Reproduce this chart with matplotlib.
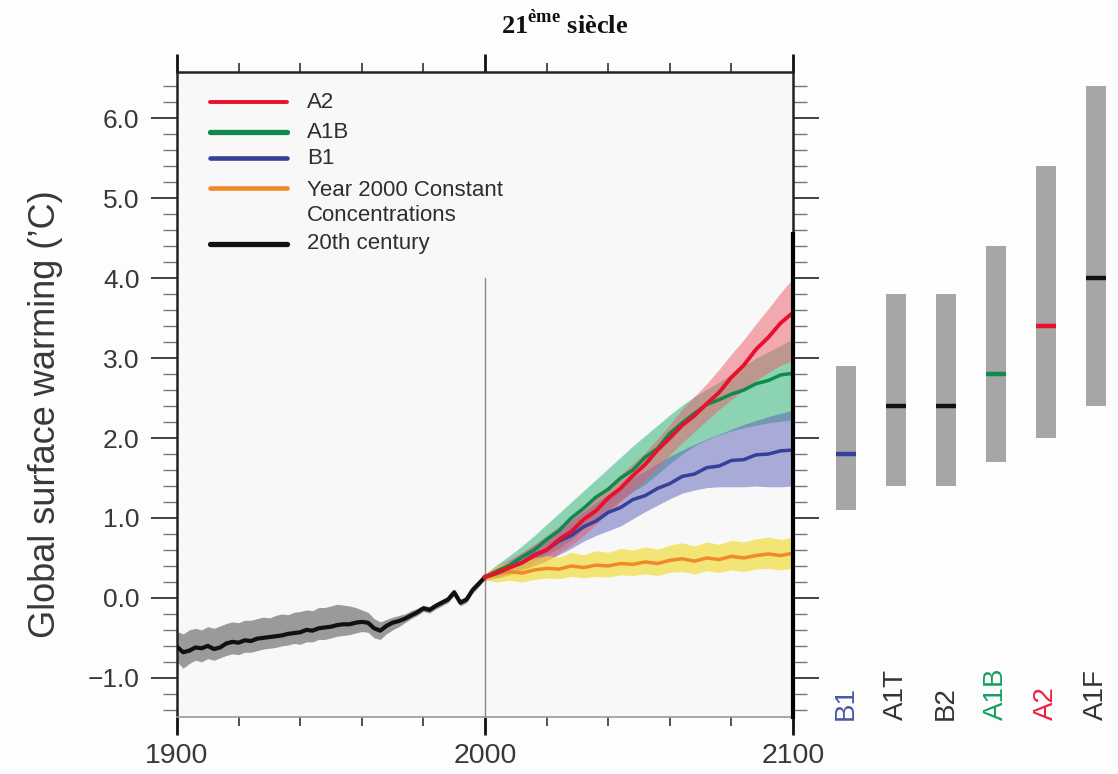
import matplotlib
matplotlib.use('Agg')
import matplotlib.pyplot as plt
import numpy as np
from matplotlib.ticker import MultipleLocator, FixedLocator

plt.rcParams['font.family'] = ['Liberation Sans', 'DejaVu Sans']
plt.rcParams['mathtext.fontset'] = 'custom'
plt.rcParams['mathtext.bf'] = 'Liberation Serif:bold'
plt.rcParams['mathtext.rm'] = 'Liberation Serif'

# ---------------- data ----------------
years_20c = list(range(1900, 2001, 2))
c20_mean = [-0.61, -0.68, -0.66, -0.62, -0.63, -0.60, -0.64, -0.62, -0.57, -0.55,
            -0.56, -0.53, -0.54, -0.51, -0.50, -0.49, -0.48, -0.47, -0.45, -0.44,
            -0.43, -0.40, -0.41, -0.38, -0.37, -0.36, -0.34, -0.33, -0.33, -0.31,
            -0.30, -0.31, -0.38, -0.41, -0.35, -0.31, -0.29, -0.26, -0.22, -0.18,
            -0.13, -0.15, -0.10, -0.06, -0.02, 0.07, -0.06, -0.02, 0.10, 0.18, 0.26]
c20_hi = [-0.42, -0.45, -0.40, -0.38, -0.40, -0.36, -0.38, -0.35, -0.32, -0.30,
          -0.31, -0.28, -0.28, -0.26, -0.24, -0.25, -0.22, -0.20, -0.21, -0.18,
          -0.17, -0.15, -0.16, -0.12, -0.12, -0.10, -0.08, -0.09, -0.10, -0.12,
          -0.15, -0.18, -0.26, -0.30, -0.27, -0.24, -0.22, -0.20, -0.16, -0.13,
          -0.09, -0.11, -0.06, -0.02, 0.02, 0.11, -0.02, 0.02, 0.13, 0.21, 0.29]
c20_lo = [-0.80, -0.88, -0.82, -0.78, -0.80, -0.76, -0.78, -0.75, -0.72, -0.70,
          -0.71, -0.68, -0.68, -0.66, -0.64, -0.63, -0.62, -0.60, -0.59, -0.57,
          -0.58, -0.55, -0.55, -0.52, -0.52, -0.50, -0.48, -0.47, -0.46, -0.44,
          -0.42, -0.43, -0.50, -0.52, -0.45, -0.40, -0.36, -0.31, -0.26, -0.22,
          -0.17, -0.19, -0.14, -0.10, -0.06, 0.03, -0.10, -0.06, 0.06, 0.14, 0.23]

years_21c = list(range(2000, 2101, 4))
a2_mean = [0.26, 0.32, 0.38, 0.44, 0.53, 0.60, 0.73, 0.83, 0.98, 1.09, 1.25, 1.37, 1.53,
           1.67, 1.85, 2.00, 2.16, 2.28, 2.43, 2.57, 2.76, 2.91, 3.11, 3.26, 3.44, 3.57]
a2_hi = [0.30, 0.40, 0.48, 0.57, 0.67, 0.78, 0.90, 1.00, 1.11, 1.25, 1.40, 1.54, 1.68,
         1.82, 1.99, 2.17, 2.36, 2.52, 2.68, 2.86, 3.05, 3.23, 3.43, 3.62, 3.82, 4.00]
a2_lo = [0.22, 0.25, 0.29, 0.34, 0.40, 0.46, 0.56, 0.66, 0.78, 0.92, 1.06, 1.20, 1.34,
         1.48, 1.63, 1.79, 1.94, 2.08, 2.22, 2.36, 2.48, 2.60, 2.72, 2.82, 2.91, 2.97]
a1b_mean = [0.26, 0.34, 0.41, 0.51, 0.60, 0.73, 0.84, 1.00, 1.12, 1.26, 1.36, 1.50, 1.60,
            1.76, 1.87, 2.06, 2.19, 2.31, 2.42, 2.48, 2.55, 2.60, 2.68, 2.72, 2.79, 2.81]
a1b_hi = [0.30, 0.42, 0.53, 0.65, 0.78, 0.92, 1.06, 1.20, 1.34, 1.48, 1.62, 1.76, 1.90,
          2.03, 2.16, 2.29, 2.41, 2.52, 2.61, 2.70, 2.80, 2.90, 3.00, 3.08, 3.16, 3.24]
a1b_lo = [0.22, 0.26, 0.32, 0.38, 0.46, 0.54, 0.62, 0.73, 0.86, 0.98, 1.10, 1.22, 1.33,
          1.42, 1.55, 1.68, 1.80, 1.90, 1.98, 2.04, 2.09, 2.13, 2.16, 2.19, 2.21, 2.23]
b1_mean = [0.26, 0.31, 0.38, 0.44, 0.54, 0.60, 0.71, 0.78, 0.89, 0.96, 1.07, 1.13, 1.23,
           1.28, 1.37, 1.43, 1.52, 1.55, 1.63, 1.65, 1.72, 1.73, 1.79, 1.80, 1.84, 1.85]
b1_hi = [0.29, 0.38, 0.46, 0.56, 0.66, 0.76, 0.86, 0.97, 1.08, 1.19, 1.30, 1.40, 1.50,
         1.59, 1.68, 1.77, 1.85, 1.92, 1.99, 2.05, 2.11, 2.17, 2.22, 2.27, 2.31, 2.35]
b1_lo = [0.23, 0.25, 0.29, 0.35, 0.41, 0.47, 0.54, 0.62, 0.71, 0.78, 0.84, 0.90, 0.99,
         1.08, 1.16, 1.24, 1.31, 1.35, 1.38, 1.39, 1.39, 1.39, 1.40, 1.39, 1.39, 1.40]
cc_mean = [0.26, 0.30, 0.33, 0.31, 0.35, 0.37, 0.36, 0.40, 0.38, 0.41, 0.40, 0.43, 0.42,
           0.45, 0.43, 0.47, 0.49, 0.46, 0.50, 0.48, 0.52, 0.50, 0.53, 0.55, 0.53, 0.56]
cc_hi = [0.30, 0.40, 0.45, 0.44, 0.50, 0.53, 0.51, 0.57, 0.54, 0.59, 0.57, 0.62, 0.60,
         0.64, 0.61, 0.66, 0.69, 0.65, 0.70, 0.67, 0.72, 0.70, 0.74, 0.76, 0.73, 0.76]
cc_lo = [0.22, 0.20, 0.22, 0.20, 0.23, 0.25, 0.24, 0.27, 0.25, 0.27, 0.26, 0.29, 0.28,
         0.30, 0.28, 0.32, 0.33, 0.30, 0.34, 0.32, 0.35, 0.33, 0.36, 0.37, 0.35, 0.37]

# likely ranges (bars at right)
scenarios = ['B1', 'A1T', 'B2', 'A1B', 'A2', 'A1F']
best_est = [1.8, 2.4, 2.4, 2.8, 3.4, 4.0]
range_lo = [1.1, 1.4, 1.4, 1.7, 2.0, 2.4]
range_hi = [2.9, 3.8, 3.8, 4.4, 5.4, 6.4]

legend_labels = ['A2', 'A1B', 'B1', 'Year 2000 Constant\nConcentrations', '20th century']

# ---------------- styles ----------------
C_A2, C_A1B, C_B1, C_CC, C_20 = '#e8112d', '#108a4c', '#34409a', '#f08a28', '#111111'
scen_colors = [C_B1, '#111111', '#111111', C_A1B, C_A2, '#111111']
label_colors = ['#4a58a8', '#333333', '#333333', '#14a060', '#ee2040', '#333333']
TXT = '#383838'

fig = plt.figure(figsize=(11.18, 7.74), dpi=100, facecolor='#fdfdfd')
W, H = 1118, 774
ax = fig.add_axes([177 / W, 57 / H, 616 / W, 645 / H])
ax.set_facecolor('#f8f8f8')
ax.set_xlim(1900, 2100)
ax.set_ylim(-1.49, 6.58)

# 20th century
ax.fill_between(years_20c, c20_lo, c20_hi, color='#9a9a9a', lw=0, zorder=2)
# future bands
ax.fill_between(years_21c, a1b_lo, a1b_hi, color='#22b070', alpha=0.5, lw=0, zorder=2)
ax.fill_between(years_21c, b1_lo, b1_hi, color='#5a5fb8', alpha=0.5, lw=0, zorder=2)
ax.fill_between(years_21c, a2_lo, a2_hi, color='#ee5a68', alpha=0.5, lw=0, zorder=2)
ax.fill_between(years_21c, cc_lo, cc_hi, color='#f0dc30', alpha=0.65, lw=0, zorder=2)

ax.plot(years_20c, c20_mean, color=C_20, lw=3, zorder=4)
ax.plot(years_21c, cc_mean, color=C_CC, lw=2.5, zorder=4)
ax.plot(years_21c, b1_mean, color=C_B1, lw=2.5, zorder=4)
ax.plot(years_21c, a1b_mean, color=C_A1B, lw=2.5, zorder=4)
ax.plot(years_21c, a2_mean, color=C_A2, lw=2.8, zorder=5)

ax.axvline(2000, ymin=0, ymax=(4.0 + 1.49) / (6.58 + 1.49), color='#8a8a8a', lw=1, zorder=3)

# spines
for s in ['left', 'top', 'right']:
    ax.spines[s].set_linewidth(1.8)
    ax.spines[s].set_color('#222222')
ax.spines['bottom'].set_linewidth(1.2)
ax.spines['bottom'].set_color('#9a9a9a')
ax.axvline(2100, ymin=0, ymax=(4.55 + 1.49) / (6.58 + 1.49), color='black', lw=3, zorder=6,
           clip_on=False)

# ticks
ax.xaxis.set_major_locator(FixedLocator([1900, 2000, 2100]))
ax.xaxis.set_minor_locator(MultipleLocator(20))
ax.yaxis.set_major_locator(FixedLocator([-1, 0, 1, 2, 3, 4, 5, 6]))
ax.yaxis.set_minor_locator(MultipleLocator(0.2))
ax.set_yticklabels(['\u22121.0', '0.0', '1.0', '2.0', '3.0', '4.0', '5.0', '6.0'])
ax.tick_params(axis='x', which='major', direction='out', length=13, width=2, color='#111111',
               top=True, bottom=True, labelsize=20.5, labelcolor=TXT, pad=6)
ax.tick_params(axis='x', which='minor', direction='out', length=6.5, width=1.2, color='#333333',
               top=True, bottom=True)
ax.tick_params(axis='y', which='major', direction='out', length=19, width=1.3, color='#333333',
               left=True, right=True, labelsize=19, labelcolor=TXT, pad=8)
ax.tick_params(axis='y', which='minor', direction='out', length=10, width=1, color='#777777',
               left=True, right=True)

fig.text(46 / W, 1 - 414 / H, 'Global surface warming (\u2019C)', rotation=90, ha='center',
         va='center', fontsize=26, color=TXT)

# manual legend
leg_y = [102, 132, 158, 188, 244]
leg_cols = [C_A2, C_A1B, C_B1, C_CC, C_20]
leg_lw = [2.8, 3.8, 3.3, 3.3, 3.8]
leg_text_y = [102, 132, 158, 203, 244]
for lab, col, ly, ty, lw in zip(legend_labels, leg_cols, leg_y, leg_text_y, leg_lw):
    yy = 1 - ly / H
    fig.add_artist(plt.Line2D([210 / W, 287 / W], [yy, yy], color=col, lw=lw,
                              solid_capstyle='round', transform=fig.transFigure))
    fig.text(307 / W, 1 - ty / H, lab, ha='left', va='center', fontsize=16,
             color='#2e2e2e', linespacing=1.3)

# bars at right
axb = fig.add_axes([796 / W, 57 / H, 322 / W, 645 / H])
axb.set_xlim(-1, 5.44)
axb.set_ylim(-1.49, 6.58)
axb.axis('off')
idx = np.arange(len(scenarios))
axb.bar(idx, np.array(range_hi) - np.array(range_lo), bottom=range_lo, width=0.4,
        color='#a6a6a6', lw=0)
axb.hlines(best_est, idx - 0.2, idx + 0.2, colors=scen_colors, lw=3.2)
for i, (name, col) in enumerate(zip(scenarios, label_colors)):
    axb.text(i, -1.525, name, rotation=90, ha='center', va='bottom', fontsize=20,
             color=col, clip_on=False)

fig.text(565 / W, 1 - 25 / H, r'21$^{\mathbf{\`eme}}$ siècle', ha='center', va='center',
         family='Liberation Serif', weight='bold', fontsize=19, color='#111111')

fig.savefig('out.png', dpi=100, facecolor=fig.get_facecolor())
